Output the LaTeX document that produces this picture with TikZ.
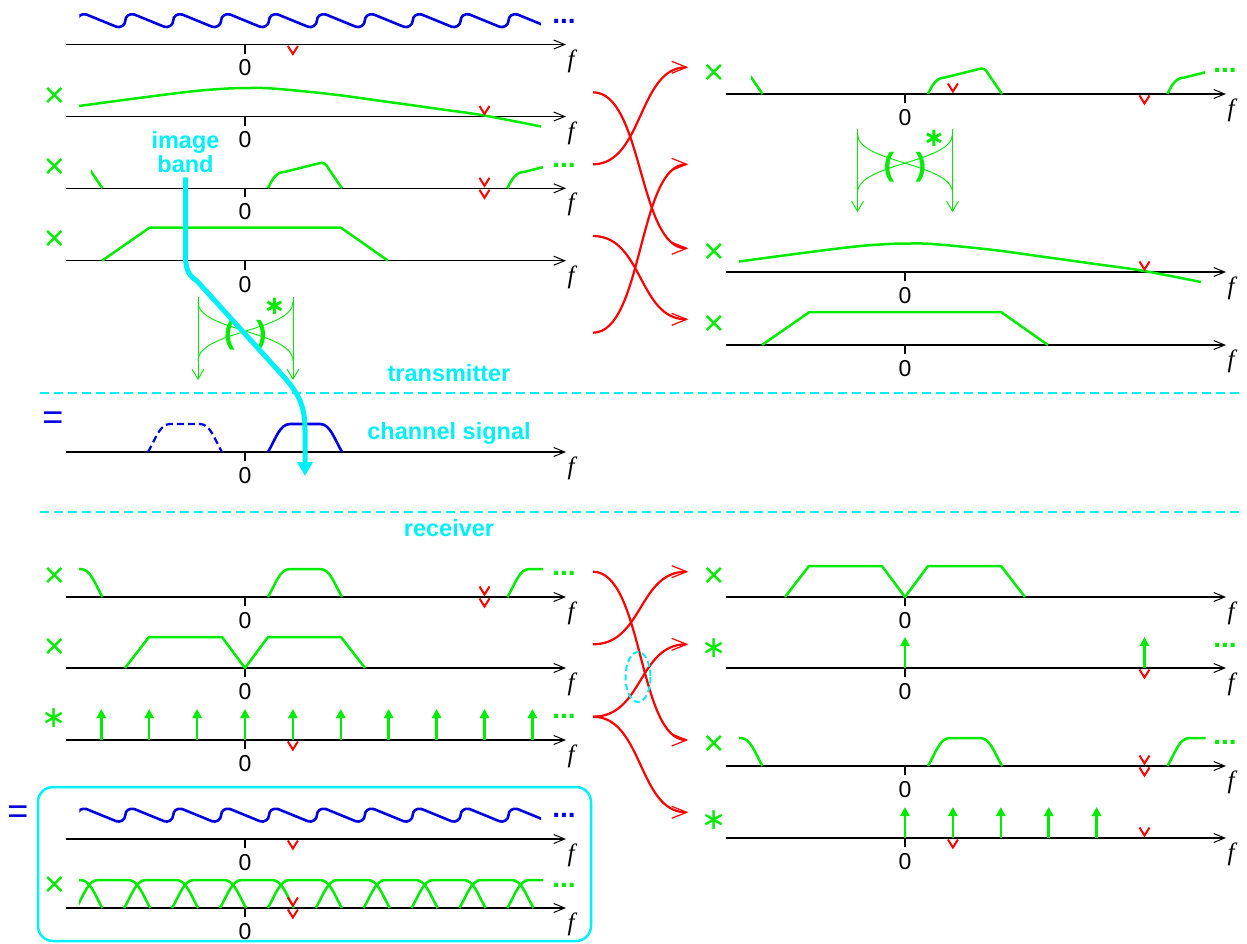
\documentclass[tikz,border=0pt]{standalone}
\usepackage{fontspec}
\setmainfont{Liberation Sans}
\newfontfamily\serf{Liberation Serif}
\newfontfamily\djv{DejaVu Sans}
\usetikzlibrary{arrows.meta}
\definecolor{gr}{RGB}{0,235,0}
\definecolor{bl}{RGB}{0,0,225}
\definecolor{rd}{RGB}{255,0,0}
\definecolor{cy}{RGB}{0,240,250}
\newcommand{\PP}{47.9}
\tikzset{
  axisline/.style={black, line width=1.1pt, -{Straight Barb[length=11pt,width=9pt,line width=1pt]}},
  tickline/.style={black, line width=1.1pt},
  zerolbl/.style={font=\fontsize{23}{26}\selectfont, inner sep=0pt},
  flbl/.style={font=\serf\itshape\fontsize{25}{26}\selectfont, inner sep=0pt},
  opx/.style={text=gr, font=\fontsize{36}{36}\selectfont, inner sep=0pt},
  opeq/.style={text=bl, font=\fontsize{36}{36}\selectfont, inner sep=0pt},
  opconv/.style={text=gr, font=\djv\fontsize{30}{30}\selectfont, inner sep=0pt},
  gline/.style={gr, line width=2.5pt, line join=round},
  bline/.style={bl, line width=2.6pt, line join=round},
  redv/.style={rd, line width=2pt},
  redarrow/.style={rd, line width=2.2pt, -{Straight Barb[length=15pt,width=12pt,line width=1.2pt]}},
  impulse/.style={gr, line width=2.5pt, -{Triangle[length=9pt,width=9pt]}},
  conjarrow/.style={gr, line width=0.9pt, -{Straight Barb[length=10pt,width=12pt,line width=0.9pt]}},
  conjcurve/.style={gr, line width=0.9pt},
  dotsl/.style={font=\bfseries\fontsize{28}{28}\selectfont, inner sep=0pt},
  cylbl/.style={text=cy, font=\bfseries\fontsize{23.5}{24}\selectfont, inner sep=0pt, align=center},
  cydash/.style={cy, line width=2.2pt, dash pattern=on 9pt off 5pt},
}
\newcommand{\faxis}[3]{%
  \coordinate (#1s) at (#2-179,#3);
  \coordinate (#1e) at (#2+321,#3);
  \draw[axisline] (#1s) -- (#1e);
  \draw[tickline] (#2,#3) -- (#2,#3+9);
  \node[zerolbl] (#1z) at (#2,#3+23.5) {0};
  \node[flbl] (#1f) at (#2+326,#3+16.5) {f};}
\newcommand{\vab}[2]{\draw[redv] (#1-5,#2-10.5) -- (#1,#2-2.5) -- (#1+5,#2-10.5);}
\newcommand{\vbe}[2]{\draw[redv] (#1-5,#2+1.5) -- (#1,#2+9.5) -- (#1+5,#2+1.5);}
\newcommand{\band}[3]{\draw[#3] (#1-37,#2) .. controls (#1-29,#2-14) and (#1-25,#2-28) .. (#1-15,#2-28) -- (#1+15,#2-28) .. controls (#1+25,#2-28) and (#1+29,#2-14) .. (#1+37,#2);}
\newcommand{\tband}[2]{\draw[gline] (#1-37,#2) .. controls (#1-32,#2-11) and (#1-28,#2-16) .. (#1-20,#2-16.5) -- (#1+14,#2-25) .. controls (#1+18,#2-26.3) and (#1+21,#2-25) .. (#1+24,#2-19) -- (#1+37,#2);}
\newcommand{\hump}[2]{\draw[gline] plot[smooth, tension=0.6] coordinates {(#1-166,#2-10.5) (#1-110,#2-18) (#1-54,#2-25) (#1-20,#2-27.8) (#1+5,#2-28.5) (#1+30,#2-27.8) (#1+87,#2-22.2) (#1+140,#2-15) (#1+194,#2-7.5) (#1+238,#2-1.2) (#1+296,#2+10)};}
\newcommand{\trap}[2]{\draw[gline] (#1-143,#2) -- (#1-95.5,#2-33) -- (#1+96,#2-33) -- (#1+143,#2);}
\newcommand{\dtrap}[2]{\draw[gline] (#1-120,#2) -- (#1-96,#2-31) -- (#1-23,#2-31) -- (#1,#2) -- (#1+23,#2-31) -- (#1+96,#2-31) -- (#1+120,#2);}
\newcommand{\wave}[2]{%
  \begin{scope}
  \clip (#1-165.6,#2-40) rectangle (#1+296,#2-5);
  \draw[bline] (#1-4.5*\PP+9,#2-30) \foreach \k in {-3,...,7} { -- ({#1+(\k-0.5)*\PP-9},#2-17.8) .. controls +(4,1.6) and +(0,4) .. ({#1+(\k-0.5)*\PP},#2-23.5) .. controls +(0,-5) and +(-5,-1.2) .. ({#1+(\k-0.5)*\PP+9},#2-30) };
  \end{scope}}
\newcommand{\conj}[3]{%
  \coordinate (#1tl) at (#2-47.5,#3);
  \coordinate (#1bl) at (#2-47.5,#3+83);
  \coordinate (#1tr) at (#2+47.5,#3);
  \coordinate (#1br) at (#2+47.5,#3+83);
  \draw[conjarrow] (#1tl) -- (#1bl);
  \draw[conjarrow] (#1tr) -- (#1br);
  \draw[conjcurve] (#2-47.5,#3+5) .. controls (#2-47.5,#3+34) and (#2+47.5,#3+34) .. (#2+47.5,#3+64);
  \draw[conjcurve] (#2+47.5,#3+5) .. controls (#2+47.5,#3+34) and (#2-47.5,#3+34) .. (#2-47.5,#3+64);
  \node[text=gr, font=\bfseries\fontsize{32}{32}\selectfont, inner sep=0pt] (#1lp) at (#2-16,#3+38) {(};
  \node[text=gr, font=\bfseries\fontsize{32}{32}\selectfont, inner sep=0pt] (#1rp) at (#2+16,#3+38) {)};
  \node[text=gr, font=\djv\bfseries\fontsize{26}{26}\selectfont, inner sep=0pt] (#1st) at (#2+29,#3+9) {∗};}
\begin{document}
\begin{tikzpicture}[x=1pt,y=-1pt]
\useasboundingbox (0,0) rectangle (1247,943);
% ===== left column, transmitter =====
\faxis{a1}{245}{44.5}
\wave{245}{44.5}
\node[dotsl, text=bl] (d1) at (564,21) {...};
\vbe{292.9}{44.5}

\faxis{a2}{245}{116.5}
\node[opx] (x2) at (54.5,97.5) {×};
\hump{245}{116.5}
\vab{484.5}{116.5}

\faxis{a3}{245}{188.3}
\node[opx] (x3) at (54.5,168.5) {×};
\begin{scope}
  \clip (91,150) rectangle (543,195);
  \tband{65.5}{188.3}
  \tband{305}{188.3}
  \tband{544.5}{188.3}
\end{scope}
\node[dotsl, text=gr] (d3) at (564,165) {...};
\vab{484.5}{188.3}
\vbe{484.5}{188.3}

\faxis{a4}{245}{260.7}
\node[opx] (x4) at (54.5,240.5) {×};
\trap{245}{260.7}

\conj{cl}{245.5}{297}

\node[cylbl] (ib) at (185.5,151.6) {image\\band};
\node[cylbl, anchor=base] (tx) at (449,381) {transmitter};
\coordinate (dl1a) at (40,392.7);
\coordinate (dl1b) at (1242,392.7);
\draw[cydash] (dl1a) -- (dl1b);

% ===== channel =====
\faxis{a5}{245}{452}
\node[opeq] (eq1) at (53,421) {=};
\band{185}{452}{bl, line width=2.2pt, dash pattern=on 7pt off 4pt}
\band{305}{452}{bline}
\node[cylbl, anchor=base] (cs) at (449,439) {channel signal};
\coordinate (cend) at (305,476);
\draw[cy, line width=5pt, -{Triangle[length=14pt,width=15pt]}] (ib.south) ++(0,5) -- (185.5,255) .. controls (185.5,272) and (190,276) .. (197,281) -- (275,367) .. controls (295,389) and (305,400) .. (305,430) -- (cend);

\coordinate (dl2a) at (40,512);
\coordinate (dl2b) at (1242,512);
\draw[cydash] (dl2a) -- (dl2b);
\node[cylbl, anchor=base] (rx) at (449,536) {receiver};

% ===== left column, receiver =====
\faxis{a6}{245}{597}
\node[opx] (x6) at (54.5,577) {×};
\begin{scope}
  \clip (79,560) rectangle (543,605);
  \band{65.5}{597}{gline}
  \band{305}{597}{gline}
  \band{544.5}{597}{gline}
\end{scope}
\node[dotsl, text=gr] (d6) at (564,573) {...};
\vab{484.5}{597}
\vbe{484.5}{597}

\faxis{a7}{245}{668}
\node[opx] (x7) at (54.5,648) {×};
\dtrap{245}{668}

\faxis{a8}{245}{740}
\node[opconv] (s8) at (54.5,718) {∗};
\foreach \k [count=\i] in {-3,...,6} {
  \coordinate (ia\i) at ({245+\k*\PP},740);
  \coordinate (ib\i) at ({245+\k*\PP},709);
  \draw[impulse] (ia\i) -- (ib\i);
}
\node[dotsl, text=gr] (d8) at (564,716) {...};
\vbe{292.9}{740}

% box
\node[opeq] (eq2) at (18,815) {=};
\draw[cy, line width=2.5pt, rounded corners=15pt] (38,787) rectangle (591,941);

\faxis{a9}{245}{839}
\wave{245}{839}
\node[dotsl, text=bl] (d9) at (564,815) {...};
\vbe{292.9}{839}

\faxis{a10}{245}{908}
\node[opx] (x10) at (54.5,886) {×};
\begin{scope}
  \clip (79,868) rectangle (543,916);
  \foreach \k in {-6,...,5} {
    \pgfmathsetmacro\cc{245+1.25*\PP+\k*\PP}
    \band{\cc}{908}{gline}
  }
\end{scope}
\node[dotsl, text=gr] (d10) at (564,885) {...};
\vab{292.9}{908}
\vbe{292.9}{908}

% ===== right column =====
\faxis{b1}{905}{94}
\node[opx] (y1) at (714,74) {×};
\begin{scope}
  \clip (751,55) rectangle (1205,101);
  \tband{725.5}{94}
  \tband{965}{94}
  \tband{1204.5}{94}
\end{scope}
\node[dotsl, text=gr] (e1) at (1225,70) {...};
\vab{952.9}{94}
\vbe{1144.5}{94}

\conj{cr}{905}{129}

\faxis{b2}{905}{272}
\node[opx] (y2) at (714,253) {×};
\hump{905}{272}
\vab{1144.5}{272}

\faxis{b3}{905}{345}
\node[opx] (y3) at (714,325) {×};
\trap{905}{345}

\faxis{b4}{905}{597}
\node[opx] (y4) at (714,577) {×};
\dtrap{905}{597}

\faxis{b5}{905}{668}
\node[opconv] (t5) at (714,648) {∗};
\coordinate (ja1) at (905,668);
\coordinate (jb1) at (905,637);
\coordinate (ja2) at (1144.5,668);
\coordinate (jb2) at (1144.5,637);
\draw[impulse] (ja1) -- (jb1);
\draw[impulse] (ja2) -- (jb2);
\node[dotsl, text=gr] (e5) at (1225,645) {...};
\vbe{1144.5}{668}

\faxis{b6}{905}{766}
\node[opx] (y6) at (714,745) {×};
\begin{scope}
  \clip (739,725) rectangle (1205.5,774);
  \band{725.5}{766}{gline}
  \band{965}{766}{gline}
  \band{1204.5}{766}{gline}
\end{scope}
\node[dotsl, text=gr] (e6) at (1225,742) {...};
\vab{1144.5}{766}
\vbe{1144.5}{766}

\faxis{b7}{905}{838}
\node[opconv] (t7) at (714,820) {∗};
\foreach \k [count=\i] in {0,...,4} {
  \coordinate (ka\i) at ({905+\k*\PP},838);
  \coordinate (kb\i) at ({905+\k*\PP},807);
  \draw[impulse] (ka\i) -- (kb\i);
}
\vbe{952.9}{838}
\vab{1144.5}{838}

% ===== red connectors =====
\coordinate (p1) at (593,92.3);
\coordinate (p2) at (593,164.3);
\coordinate (p3) at (593,236);
\coordinate (p4) at (593,332.7);
\coordinate (q1) at (688.3,67.3);
\coordinate (q2) at (688.3,164.3);
\coordinate (q3) at (688.3,248.3);
\coordinate (q4) at (688.3,319.3);
\draw[redarrow] (p1) .. controls +(50,0) and +(-50,0) .. (q3);
\draw[redarrow] (p2) .. controls +(50,0) and +(-50,0) .. (q1);
\draw[redarrow] (p3) .. controls +(50,0) and +(-50,0) .. (q4);
\draw[redarrow] (p4) .. controls +(50,0) and +(-50,0) .. (q2);

\coordinate (r1) at (593,571.7);
\coordinate (r2) at (593,644.3);
\coordinate (r3) at (593,716.7);
\coordinate (s1) at (688.3,571.7);
\coordinate (s2) at (688.3,644.3);
\coordinate (s3) at (688.3,740);
\coordinate (s4) at (688.3,812.3);
\draw[redarrow] (r1) .. controls +(50,0) and +(-50,0) .. (s3);
\draw[redarrow] (r2) .. controls +(50,0) and +(-50,0) .. (s1);
\draw[redarrow] (r3) .. controls +(50,0) and +(-50,0) .. (s2);
\draw[redarrow] (r3) .. controls +(50,0) and +(-50,0) .. (s4);
\draw[cy, line width=2pt, dash pattern=on 6pt off 3.5pt] (638,677) ellipse [x radius=12.5, y radius=25];
\end{tikzpicture}
\end{document}
